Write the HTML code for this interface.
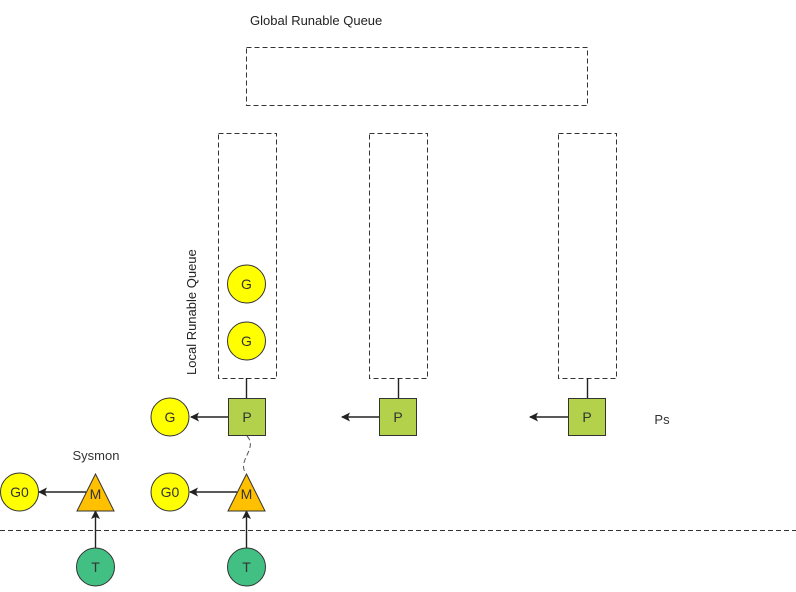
<!DOCTYPE html>
<html><head><meta charset="utf-8"><style>body{margin:0;background:#fff}</style></head><body>
<svg width="796" height="587" xmlns="http://www.w3.org/2000/svg" font-family="Liberation Sans, sans-serif" font-size="13">
<defs><marker id="a" markerWidth="9" markerHeight="9" refX="8" refY="4.5" orient="auto" markerUnits="userSpaceOnUse"><path d="M0,0 L9,4.5 L0,9 L2,4.5 z" fill="#222"/></marker></defs>
<g fill="none" stroke="#333" stroke-dasharray="5,3">
<rect x="246.5" y="47.5" width="341" height="58"/>
<rect x="218.5" y="133.5" width="58" height="245"/>
<rect x="369.5" y="133.5" width="58" height="245"/>
<rect x="558.5" y="133.5" width="58" height="245"/>
<line x1="0" y1="530.5" x2="796" y2="530.5"/>
</g>
<text x="250" y="25" fill="#222">Global Runable Queue</text>
<text transform="translate(196,375) rotate(-90)" fill="#222">Local Runable Queue</text>
<g stroke="#222" stroke-width="1.4">
<line x1="246.5" y1="378" x2="246.5" y2="398"/><line x1="398.5" y1="378" x2="398.5" y2="398"/><line x1="587.5" y1="378" x2="587.5" y2="398"/>
<line x1="228" y1="417" x2="191" y2="417" marker-end="url(#a)"/>
<line x1="379" y1="417" x2="342" y2="417" marker-end="url(#a)"/>
<line x1="568" y1="417" x2="530" y2="417" marker-end="url(#a)"/>
<line x1="86" y1="492" x2="39" y2="492" marker-end="url(#a)"/>
<line x1="237" y1="492" x2="190" y2="492" marker-end="url(#a)"/>
<line x1="95.5" y1="548" x2="95.5" y2="511" marker-end="url(#a)"/>
<line x1="246.5" y1="548" x2="246.5" y2="511" marker-end="url(#a)"/>
</g>
<path d="M247,436 C258,448 238,460 245,472" fill="none" stroke="#555" stroke-dasharray="5,3"/>
<g stroke="#333" fill="#b3d14a"><rect x="228.5" y="398.5" width="37" height="37"/><rect x="379.5" y="398.5" width="37" height="37"/><rect x="568.5" y="398.5" width="37" height="37"/></g>
<g stroke="#333" fill="#ffff00"><circle cx="246.5" cy="284" r="19"/><circle cx="246.5" cy="341" r="19"/><circle cx="170" cy="417" r="19"/><circle cx="19.5" cy="492" r="19"/><circle cx="170" cy="492" r="19"/></g>
<g stroke="#333" fill="#ffc000"><path d="M95.5,474 L114,511 L77,511 z"/><path d="M246.5,474 L265,511 L228,511 z"/></g>
<g stroke="#333" fill="#42c084"><circle cx="95.5" cy="567" r="19"/><circle cx="246.5" cy="567" r="19"/></g>
<g text-anchor="middle" fill="#333" font-size="14">
<text x="246.5" y="289">G</text><text x="246.5" y="346">G</text><text x="170" y="422">G</text>
<text x="247" y="422">P</text><text x="398" y="422">P</text><text x="587" y="422">P</text>
<text x="19.5" y="497">G0</text><text x="170" y="497">G0</text>
<text x="95.5" y="499">M</text><text x="246.5" y="499">M</text>
<text x="95.5" y="572">T</text><text x="246.5" y="572">T</text>
<text x="96" y="460" font-size="13">Sysmon</text><text x="662" y="424" font-size="13">Ps</text>
</g>
</svg>
</body></html>
